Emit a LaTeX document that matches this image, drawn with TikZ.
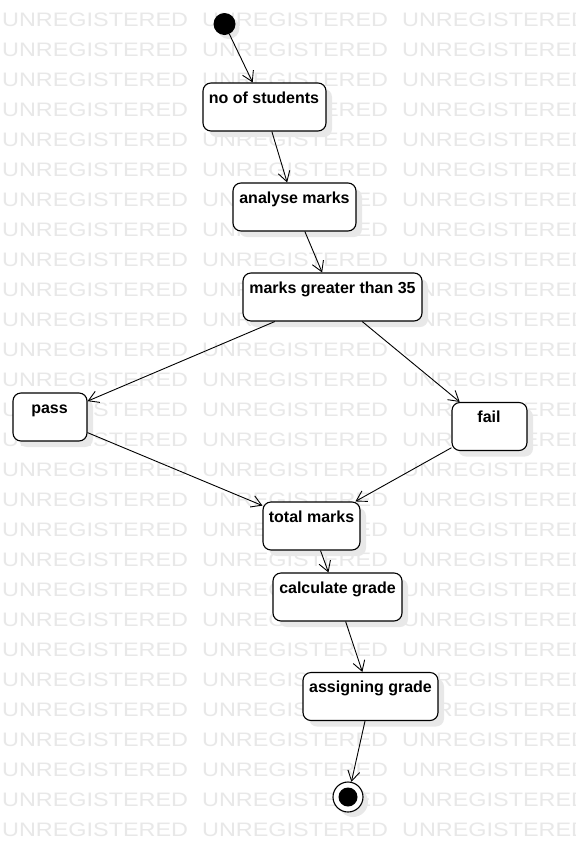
\documentclass[tikz,border=0pt]{standalone}
\usepackage{fontspec}
\setmainfont{Liberation Sans}
\newfontfamily\wmfont[FakeStretch=1.2]{Liberation Sans}
\usetikzlibrary{arrows.meta,shadows}
\begin{document}
\begin{tikzpicture}[x=1pt,y=-1pt,
  wm/.style={anchor=west,inner sep=0pt,text=black!9,font=\wmfont\fontsize{19.5}{20}\selectfont},
  statebox/.style={draw=black,line width=1.1pt,rounded corners=8pt,fill=white,inner sep=0pt,minimum height=48pt,
     drop shadow={shadow xshift=6pt,shadow yshift=-6pt,fill=black!9,opacity=1}},
  lbl/.style={anchor=base,inner sep=0pt,font=\bfseries\fontsize{16}{18}\selectfont},
  flow/.style={draw=black,line width=0.9pt,-{Straight Barb[length=10pt,width=12pt,line width=0.9pt]}},
  startnode/.style={circle,fill=black,inner sep=0pt,minimum size=22pt,
     drop shadow={shadow xshift=4pt,shadow yshift=-4pt,fill=black!9,opacity=1}},
  endouter/.style={circle,draw=black,line width=1.1pt,fill=white,inner sep=0pt,minimum size=30pt,
     drop shadow={shadow xshift=5pt,shadow yshift=-5pt,fill=black!9,opacity=1}},
  endinner/.style={circle,fill=black,inner sep=0pt,minimum size=19pt},
]
\useasboundingbox (0,0) rectangle (576,863);
\clip (0,0) rectangle (576,863);
\fill[white] (0,0) rectangle (576,863);
% watermark
\foreach \k in {0,...,27}{
  \foreach \xx in {2,202,402}{
    \node[wm] (w-\k-\xx) at (\xx,{20+30*\k}) {UNREGISTERED};
  }
}
% states
\node[startnode] (init) at (224.5,24) {};
\node[statebox,minimum width=123pt] (s1) at (264.5,107) {};
\node[lbl] (s1t) at (264,103) {no of students};
\node[statebox,minimum width=123pt] (s2) at (294.5,207) {};
\node[lbl] (s2t) at (294.5,203) {analyse marks};
\node[statebox,minimum width=179pt] (s3) at (332.5,297) {};
\node[lbl] (s3t) at (332.5,293) {marks greater than 35};
\node[statebox,minimum width=74pt] (pass) at (50,417) {};
\node[lbl] (passt) at (49.5,413) {pass};
\node[statebox,minimum width=75pt] (fail) at (489.5,426.5) {};
\node[lbl] (failt) at (489,422.5) {fail};
\node[statebox,minimum width=97pt] (total) at (311.5,526) {};
\node[lbl] (totalt) at (311.5,522) {total marks};
\node[statebox,minimum width=129pt] (calc) at (337.5,597) {};
\node[lbl] (calct) at (337.5,593) {calculate grade};
\node[statebox,minimum width=135pt] (assign) at (370.5,696.5) {};
\node[lbl] (assignt) at (370.5,692.5) {assigning grade};
\node[endouter] (final) at (348,797) {};
\node[endinner] (finalin) at (348,797) {};
% flows
\draw[flow] (init) -- (s1);
\draw[flow] (s1) -- (s2);
\draw[flow] (s2) -- (s3);
\draw[flow] (s3) -- (pass);
\draw[flow] (s3) -- (fail);
\draw[flow] (pass) -- (total);
\draw[flow] (fail) -- (total);
\draw[flow] (total) -- (calc);
\draw[flow] (calc) -- (assign);
\draw[flow] (assign) -- (final);
\end{tikzpicture}
\end{document}
